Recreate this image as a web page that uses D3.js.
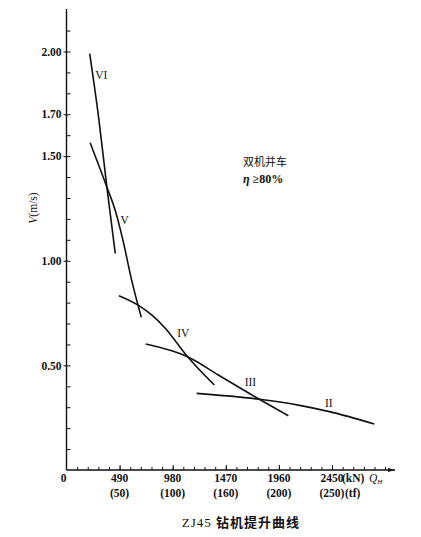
<!DOCTYPE html>
<html>
<head>
<meta charset="utf-8">
<script src="https://cdn.jsdelivr.net/npm/d3@7"></script>
<style>
  body { margin: 0; background: #fff; }
  text { font-family: "Liberation Serif", "DejaVu Serif", serif; fill: #111; }
  .cjk { font-family: "Noto Sans CJK SC", sans-serif; }
</style>
</head>
<body>
<div id="chart"></div>
<script>
// hoisting curves, [Q (kN), V (m/s)]
var curveVI  = [[214, 1.99], [300, 1.67], [374, 1.346], [450, 1.035]];
var curveV   = [[218, 1.564], [374, 1.35], [450, 1.24], [520, 1.10], [600, 0.91], [690, 0.73]];
var curveIV  = [[484, 0.833], [657, 0.789], [786, 0.741], [909, 0.679], [1118, 0.541], [1364, 0.406]];
var curveIII = [[731, 0.602], [1118, 0.541], [1401, 0.454], [1779, 0.338], [2047, 0.259]];
var curveII  = [[1201, 0.366], [1779, 0.338], [2151, 0.309], [2426, 0.279], [2840, 0.220]];

var curveNames = ["VI", "V", "IV", "III", "II"];
var labelPos = [[322, 1.887], [536, 1.195], [1078, 0.653], [1697, 0.422], [2420, 0.32]];

var xTicks = [490, 980, 1470, 1960, 2450];
var xTf = ["(50)", "(100)", "(160)", "(200)", "(250)"];
var yTicks = [0.5, 1.0, 1.5, 1.7, 2.0];

var W = 421, H = 537;

var svg = d3.select("#chart")
  .append("svg")
  .attr("width", W)
  .attr("height", H);

var x = d3.scaleLinear().domain([0, 2450]).range([66.5, 332]);
var y = d3.scaleLinear().domain([0, 2]).range([470, 51.5]);

// axes lines
svg.append("line")
  .attr("x1", x(0)).attr("x2", x(0))
  .attr("y1", y(0)).attr("y2", 9)
  .style("stroke", "#111").style("stroke-width", 1.4);
svg.append("line")
  .attr("x1", x(0)).attr("x2", 395)
  .attr("y1", y(0)).attr("y2", y(0))
  .style("stroke", "#111").style("stroke-width", 1.4);
svg.append("path")
  .attr("d", "M395," + y(0) + " l-7,-2 l0,4 z")
  .style("fill", "#111");

// y minor ticks (inside)
var yMinor = d3.range(1, 22).map(function(i) { return i / 10; });
svg.append("g")
  .attr("transform", "translate(" + x(0) + ",0)")
  .call(d3.axisRight(y).tickValues(yMinor).tickSize(4).tickFormat(""))
  .call(function(g) { g.select(".domain").remove(); })
  .selectAll("line").style("stroke", "#111");

// y labelled ticks
var yAxis = svg.append("g")
  .attr("transform", "translate(" + x(0) + ",0)")
  .call(d3.axisLeft(y).tickValues(yTicks).tickSize(3).tickPadding(2).tickFormat(d3.format(".2f")));
yAxis.select(".domain").remove();
yAxis.selectAll("line").style("stroke", "#111");
yAxis.selectAll("text")
  .style("font-family", "'Liberation Serif', serif")
  .style("font-size", "11.5px")
  .style("font-weight", "bold")
  .style("fill", "#111");

// x minor ticks every 98 kN
var xMinor = d3.range(1, 31).map(function(i) { return i * 98; });
svg.append("g")
  .attr("transform", "translate(0," + y(0) + ")")
  .call(d3.axisTop(x).tickValues(xMinor).tickSize(3).tickFormat(""))
  .call(function(g) { g.select(".domain").remove(); })
  .selectAll("line").style("stroke", "#111");
svg.append("g")
  .attr("transform", "translate(0," + y(0) + ")")
  .call(d3.axisTop(x).tickValues(xTicks).tickSize(5).tickFormat(""))
  .call(function(g) { g.select(".domain").remove(); })
  .selectAll("line").style("stroke", "#111");

// x labels
svg.selectAll(".xl")
  .data(xTicks)
  .enter()
  .append("text")
    .attr("x", function(d) { return x(d); })
    .attr("y", 482)
    .attr("text-anchor", "middle")
    .style("font-size", "11.5px")
    .style("font-weight", "bold")
    .text(function(d) { return d; });
svg.selectAll(".xt")
  .data(xTicks)
  .enter()
  .append("text")
    .attr("x", function(d) { return x(d); })
    .attr("y", 497)
    .attr("text-anchor", "middle")
    .style("font-size", "11.5px")
    .style("font-weight", "bold")
    .text(function(d, i) { return xTf[i]; });
svg.append("text")
  .attr("x", x(0) - 3).attr("y", 482)
  .attr("text-anchor", "middle")
  .style("font-size", "11.5px").style("font-weight", "bold")
  .text("0");
svg.append("text")
  .attr("x", x(2450) + 10).attr("y", 482)
  .style("font-size", "11.5px").style("font-weight", "bold")
  .text("(kN)");
svg.append("text")
  .attr("x", x(2450) + 37).attr("y", 482)
  .style("font-size", "11.5px").style("font-style", "italic")
  .text("Q")
  .append("tspan").attr("dy", 2).style("font-size", "7px").text("H");
svg.append("text")
  .attr("x", x(2450) + 13).attr("y", 497)
  .style("font-size", "11.5px").style("font-weight", "bold")
  .text("(tf)");

// y title
svg.append("text")
  .attr("transform", "translate(37,208) rotate(-90)")
  .attr("text-anchor", "middle")
  .style("font-size", "11.5px")
  .html("<tspan font-style='italic'>V</tspan>(m/s)");

// curves
var line = d3.line()
  .x(function(d) { return x(d[0]); })
  .y(function(d) { return y(d[1]); })
  .curve(d3.curveMonotoneX);

svg.selectAll(".curve")
  .data([curveVI, curveV, curveIV, curveIII, curveII])
  .enter()
  .append("path")
    .attr("d", line)
    .style("fill", "none")
    .style("stroke", "#111")
    .style("stroke-width", 1.6);

svg.selectAll(".lab")
  .data(labelPos)
  .enter()
  .append("text")
    .attr("x", function(d) { return x(d[0]); })
    .attr("y", function(d) { return y(d[1]) + 4; })
    .attr("text-anchor", "middle")
    .style("font-size", "11.5px")
    .text(function(d, i) { return curveNames[i]; });

// notes
svg.append("text")
  .attr("class", "cjk")
  .attr("x", 243).attr("y", 166)
  .style("font-size", "11px")
  .text("双机并车");
svg.append("text")
  .attr("x", 243).attr("y", 183)
  .style("font-size", "12px")
  .style("font-weight", "bold")
  .html("<tspan font-style='italic'>η</tspan> ≥80%");

// title
svg.append("text")
  .attr("x", 241).attr("y", 527)
  .attr("text-anchor", "middle")
  .style("font-size", "13px")
  .style("letter-spacing", "1px")
  .html("ZJ45 <tspan class='cjk' font-weight='bold'>钻机提升曲线</tspan>");
</script>
</body>
</html>
